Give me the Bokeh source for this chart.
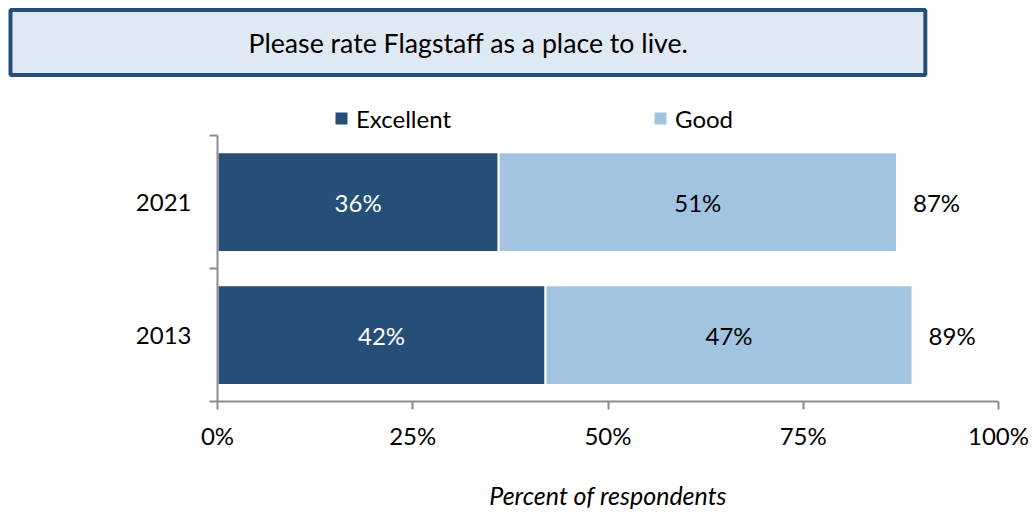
from bokeh.plotting import figure
from bokeh.models import (ColumnDataSource, FixedTicker, Legend, LegendItem,
                          Title)
from bokeh.core.properties import value
from bokeh.embed import file_html
from bokeh.resources import INLINE

# ---- data ----
years = ["2013", "2021"]
excellent = [42, 36]
good = [47, 51]
series_names = ["Excellent", "Good"]
x_ticks = [0, 25, 50, 75, 100]
x_tick_labels = ["0%", "25%", "50%", "75%", "100%"]
title_text = "Please rate Flagstaff as a place to live."
x_title = "Percent of respondents"

# ---- styles ----
FONT = "Lato"
FS = "24px"
DARK = "#254F77"
LIGHT = "#A3C4E1"
AXIS = "#8C8C8C"
BOX_FILL = "#DFE9F3"

ypos = [i + 0.5 for i in range(len(years))]
totals = [e + g for e, g in zip(excellent, good)]
src = ColumnDataSource(dict(
    y=ypos,
    exc=excellent,
    tot=totals,
    exc_mid=[e / 2 for e in excellent],
    good_mid=[e + g / 2 for e, g in zip(excellent, good)],
    exc_lbl=[f"{e}%" for e in excellent],
    good_lbl=[f"{g}%" for g in good],
    tot_lbl=[f"{t}%" for t in totals],
))

# frame: page y 80..401 ; 2 categories occupy 401..135 (133 px each)
y_top = len(years) * 321 / 266

p = figure(width=1036, height=514, x_range=(0, 100), y_range=(0, y_top),
           output_backend="svg", toolbar_location=None,
           min_border_left=217, min_border_right=38,
           min_border_top=80, min_border_bottom=113)
p.outline_line_color = None
p.xgrid.visible = False
p.ygrid.visible = False
p.background_fill_color = "white"
p.border_fill_color = "white"

p.title = Title(text=title_text, align="left", offset=-207,
                text_font=FONT, text_font_size="26.7px",
                text_font_style="normal",
                text_color="black", background_fill_color=BOX_FILL,
                border_line_color=DARK, border_line_width=4,
                padding=dict(left=238, right=237, top=17, bottom=16),
                standoff=11)

p.hbar(y="y", left=0, right="exc", height=0.75, fill_color=DARK,
       line_color="white", line_width=2, source=src)
p.hbar(y="y", left="exc", right="tot", height=0.75, fill_color=LIGHT,
       line_color="white", line_width=2, source=src)

p.text(x="exc_mid", y="y", text="exc_lbl", source=src, text_align="center",
       text_baseline="middle", text_font=value(FONT), text_font_size=FS,
       text_color="white")
p.text(x="good_mid", y="y", text="good_lbl", source=src, text_align="center",
       text_baseline="middle", text_font=value(FONT), text_font_size=FS,
       text_color="black")
p.text(x="tot", y="y", text="tot_lbl", source=src, text_align="left",
       text_baseline="middle", x_offset=16, text_font=value(FONT),
       text_font_size=FS, text_color="black")

# legend swatches (square markers, not plotted: NaN position)
nan = float("nan")
d1 = p.scatter(x=[nan], y=[nan], marker="square", fill_color=DARK,
               line_color=None)
d2 = p.scatter(x=[nan], y=[nan], marker="square", fill_color=LIGHT,
               line_color=None)
legend = Legend(items=[LegendItem(label=series_names[0], renderers=[d1]),
                       LegendItem(label=series_names[1], renderers=[d2])],
                location=(109, 268), orientation="horizontal",
                glyph_width=30, glyph_height=30, label_height=30,
                label_width=289, label_standoff=-3, spacing=0, padding=0,
                margin=0, border_line_color=None, background_fill_alpha=0,
                label_text_font=FONT, label_text_font_size=FS,
                label_text_color="black")
p.add_layout(legend)

# x axis
xa = p.xaxis[0]
xa.ticker = FixedTicker(ticks=x_ticks)
xa.major_label_overrides = {t: l for t, l in zip(x_ticks, x_tick_labels)}
xa.axis_line_color = AXIS
xa.axis_line_width = 2
xa.major_tick_line_color = AXIS
xa.major_tick_line_width = 2
xa.major_tick_out = 8
xa.major_tick_in = 0
xa.minor_tick_line_color = None
xa.major_label_text_font = FONT
xa.major_label_text_font_size = FS
xa.major_label_text_color = "black"
xa.major_label_standoff = 11
xa.axis_label = x_title
xa.axis_label_text_font = FONT
xa.axis_label_text_font_size = "25px"
xa.axis_label_text_font_style = "italic"
xa.axis_label_text_color = "black"
xa.axis_label_standoff = 27

# y axis (drawn only over the category bands)
ya = p.yaxis[0]
ya.bounds = (0, len(years))
ya.ticker = FixedTicker(ticks=ypos, minor_ticks=list(range(len(years) + 1)))
ya.major_label_overrides = {y: yr for y, yr in zip(ypos, years)}
ya.axis_line_color = AXIS
ya.axis_line_width = 2
ya.major_tick_line_color = None
ya.major_tick_out = 0
ya.major_tick_in = 0
ya.minor_tick_line_color = AXIS
ya.minor_tick_line_width = 2
ya.minor_tick_out = 8
ya.minor_tick_in = 0
ya.major_label_text_font = FONT
ya.major_label_text_font_size = FS
ya.major_label_text_color = "black"
ya.major_label_standoff = 18

open("out.html", "w").write(file_html(p, INLINE))
